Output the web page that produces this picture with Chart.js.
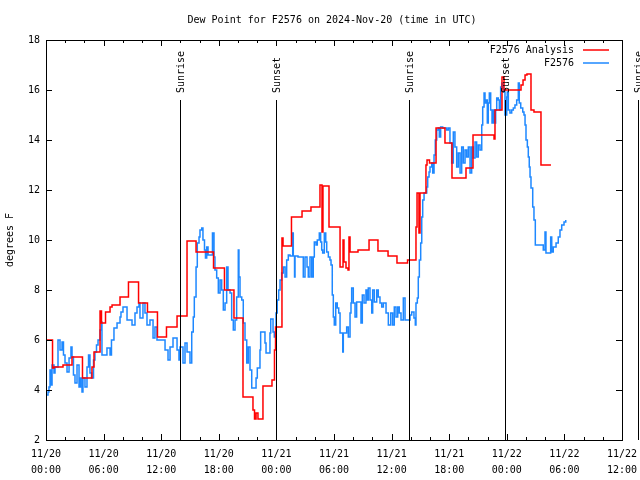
<!DOCTYPE html>
<html>
<head>
<meta charset="utf-8">
<script src="https://cdn.jsdelivr.net/npm/chart.js@4"></script>
<style>
  html, body { margin: 0; padding: 0; background: #fff; }
  #wrap { width: 640px; height: 480px; }
</style>
</head>
<body>
<div id="wrap"><canvas id="dew-chart" width="640" height="480"></canvas></div>
<script>
// hours since 2024-11-20 00:00 UTC
const analysisHours = [0.00, 0.68, 0.83, 1.77, 2.71, 3.80, 4.79, 5.00, 5.63, 5.78, 6.20, 6.67, 6.88, 7.71, 8.59,
  9.64, 10.57, 11.61, 12.55, 13.65, 14.69, 15.63, 17.45, 18.59, 19.58, 20.52, 21.56, 21.72, 21.88, 22.08, 22.60,
  23.54, 23.80, 23.91, 24.58, 24.69, 25.57, 26.67, 27.60, 28.54, 28.75, 28.85, 29.48, 30.63, 30.94, 31.04, 31.25,
  31.46, 31.56, 31.67, 32.50, 33.65, 34.58, 35.63, 36.56, 37.66, 38.54, 38.65, 38.85, 38.96, 39.58, 39.69, 39.95,
  40.63, 41.56, 42.29, 43.75, 44.48, 46.67, 46.77, 47.50, 47.71, 49.48, 49.69, 49.90, 50.10, 50.52, 50.83, 51.56, 52.60];
const analysisValues = [6.00, 4.88, 4.92, 5.00, 5.32, 4.48, 4.92, 5.52, 7.16, 6.68, 7.12, 7.32, 7.40, 7.72, 8.32,
  7.48, 7.12, 6.12, 6.52, 6.96, 9.96, 9.52, 8.88, 8.00, 6.88, 3.72, 3.20, 2.84, 3.08, 2.84, 4.16,
  4.40, 5.60, 6.52, 10.08, 9.76, 10.92, 11.16, 11.32, 12.20, 10.32, 12.16, 10.52, 8.92, 10.00, 9.12, 8.88,
  8.80, 10.12, 9.52, 9.60, 10.00, 9.56, 9.36, 9.08, 9.20, 10.52, 11.88, 10.28, 11.88, 13.00, 13.20, 13.08,
  14.48, 13.88, 12.48, 12.88, 14.20, 14.04, 15.20, 16.52, 16.00, 16.20, 16.40, 16.60, 16.64, 15.20, 15.12, 13.00, 13.00];

const stationHours = [0.07, 0.21, 0.31, 0.42, 0.52, 0.63, 0.83, 0.94, 1.25, 1.46, 1.67, 1.82, 1.98, 2.19, 2.40,
  2.60, 2.71, 2.86, 3.02, 3.23, 3.44, 3.59, 3.75, 3.85, 4.06, 4.27, 4.43, 4.58, 4.74, 4.95, 5.10, 5.26, 5.42,
  5.63, 5.78, 5.83, 6.35, 6.67, 6.82, 7.08, 7.40, 7.71, 7.81, 8.02, 8.44, 8.96, 9.27, 9.48, 9.69, 9.79, 10.10,
  10.31, 10.52, 10.83, 11.15, 11.35, 11.56, 12.40, 12.71, 12.92, 13.23, 13.65, 13.85, 13.96, 14.27, 14.48, 14.69,
  15.00, 15.18, 15.34, 15.45, 15.63, 15.76, 15.94, 16.04, 16.22, 16.35, 16.51, 16.61, 16.74, 16.88, 17.34, 17.50,
  17.60, 17.78, 17.95, 18.13, 18.30, 18.47, 18.65, 18.82, 18.96, 19.17, 19.34, 19.51, 19.69, 19.86, 20.03, 20.10,
  20.21, 20.39, 20.55, 20.73, 20.91, 21.07, 21.25, 21.43, 21.88, 22.01, 22.29, 22.36, 22.81, 22.92, 23.33, 23.41,
  23.65, 23.78, 23.96, 24.09, 24.24, 24.38, 24.55, 24.72, 24.90, 25.07, 25.24, 25.42, 25.70, 25.76, 25.89, 25.94,
  26.25, 26.80, 26.98, 27.19, 27.32, 27.50, 27.68, 27.84, 27.95, 28.13, 28.26, 28.47, 28.61, 28.72, 28.82, 28.99,
  29.14, 29.24, 29.41, 29.58, 29.69, 29.82, 29.93, 30.03, 30.18, 30.34, 30.49, 30.63, 30.91, 30.97, 31.32, 31.49,
  31.67, 31.77, 31.84, 32.01, 32.19, 32.36, 32.81, 32.95, 33.13, 33.33, 33.47, 33.57, 33.75, 33.93, 34.03, 34.20,
  34.45, 34.61, 34.79, 34.97, 35.14, 35.42, 35.66, 35.91, 36.11, 36.28, 36.46, 36.64, 36.80, 36.98, 37.22, 37.40,
  37.92, 38.09, 38.33, 38.47, 38.54, 38.68, 38.78, 38.89, 39.03, 39.14, 39.24, 39.38, 39.66, 39.76, 39.90, 40.00,
  40.18, 40.28, 40.42, 40.55, 40.70, 40.86, 40.97, 41.11, 41.32, 41.74, 41.91, 42.08, 42.26, 42.43, 42.60, 42.78,
  42.95, 43.13, 43.30, 43.47, 43.65, 43.82, 43.99, 44.17, 44.34, 44.51, 44.69, 44.86, 45.03, 45.21, 45.39, 45.49,
  45.63, 45.73, 45.83, 45.97, 46.07, 46.18, 46.32, 46.46, 46.59, 46.70, 46.84, 46.95, 47.11, 47.22, 47.36, 47.47,
  47.64, 47.81, 47.99, 48.05, 48.16, 48.33, 48.51, 48.68, 48.85, 49.03, 49.20, 49.30, 49.45, 49.66, 49.79, 49.90,
  50.00, 50.14, 50.24, 50.34, 50.42, 50.52, 50.70, 50.83, 50.97, 51.80, 51.98, 52.08, 52.57, 52.68, 52.84, 53.13,
  53.36, 53.54, 53.72, 53.96, 54.14];
const stationValues = [3.80, 3.92, 4.12, 4.80, 4.20, 5.00, 4.68, 4.92, 6.00, 5.60, 5.92, 5.40, 5.08, 4.72, 5.28,
  5.72, 5.32, 4.60, 4.28, 5.00, 4.12, 4.48, 3.92, 4.48, 4.12, 4.92, 5.40, 4.68, 4.48, 5.20, 5.52, 5.80, 6.00,
  6.40, 6.72, 5.40, 5.68, 5.40, 6.00, 6.48, 6.68, 6.92, 7.12, 7.32, 6.80, 6.60, 7.08, 7.32, 7.48, 6.88, 7.48,
  7.08, 6.60, 6.80, 6.08, 6.52, 6.00, 5.60, 5.20, 5.72, 6.08, 5.60, 5.20, 5.72, 5.08, 5.88, 5.52,
  5.08, 6.32, 6.92, 7.72, 8.92, 9.88, 10.12, 10.40, 10.48, 10.00, 9.60, 9.28, 9.72, 9.40, 10.28, 9.32,
  8.80, 8.48, 7.88, 8.40, 8.00, 7.20, 7.48, 8.92, 8.00, 7.88, 6.80, 6.40, 6.80, 7.72, 9.60, 8.52,
  7.72, 7.60, 6.68, 6.00, 5.08, 5.72, 4.80, 4.08, 4.48, 4.88, 5.60, 6.32, 5.88, 5.48, 6.28, 6.84,
  6.32, 6.12, 7.08, 7.60, 8.00, 8.40, 8.68, 8.92, 8.52, 9.20, 9.40, 9.36, 10.28, 9.36, 8.52, 9.36,
  9.32, 8.52, 9.32, 8.92, 8.52, 9.32, 8.52, 9.32, 9.92, 9.80, 10.00, 10.28, 9.92, 9.60, 9.48, 10.28,
  9.92, 9.52, 9.32, 9.20, 9.00, 7.80, 6.92, 6.60, 7.48, 7.28, 7.08, 6.28, 5.52, 6.28, 6.52, 6.12,
  7.08, 7.48, 8.08, 7.48, 6.92, 7.52, 6.68, 7.80, 7.48, 8.00, 7.60, 8.08, 7.60, 7.08, 8.00, 7.52,
  8.00, 7.72, 7.48, 7.32, 7.48, 7.08, 6.60, 7.08, 6.60, 7.32, 6.92, 7.32, 7.08, 6.80, 7.68, 6.80,
  7.00, 7.12, 6.88, 6.60, 7.48, 7.68, 8.52, 9.20, 9.88, 10.92, 11.60, 11.88, 12.12, 12.52, 12.72, 12.92,
  13.08, 12.68, 13.40, 14.00, 14.40, 14.48, 14.12, 14.52, 14.48, 14.40, 14.48, 13.88, 13.08, 14.32, 13.72, 12.92,
  13.48, 12.68, 13.72, 13.08, 13.60, 13.32, 13.72, 12.68, 13.72, 13.28, 13.92, 13.32, 13.80, 13.60, 14.60, 15.32,
  15.88, 15.48, 15.60, 14.68, 15.48, 15.88, 15.20, 14.68, 15.20, 14.68, 15.20, 15.68, 15.60, 15.20, 16.12, 16.28,
  15.92, 15.00, 15.72, 15.92, 15.20, 15.08, 15.20, 15.28, 15.40, 15.60, 16.28, 15.48, 15.28, 15.12, 15.00, 14.60,
  14.00, 13.72, 13.32, 12.92, 12.52, 12.08, 11.32, 10.80, 9.80, 9.60, 10.32, 9.48, 10.12, 9.52, 9.72, 9.88,
  10.12, 10.40, 10.60, 10.72, 10.80];

const sunHours = [13.96, 23.96, 37.81, 47.81, 61.67];
const sunLabels = ['Sunrise', 'Sunset', 'Sunrise', 'Sunset', 'Sunrise'];

const xTickDates = ['11/20', '11/20', '11/20', '11/20', '11/21', '11/21', '11/21', '11/21', '11/22', '11/22', '11/22'];
const xTickTimes = ['00:00', '06:00', '12:00', '18:00', '00:00', '06:00', '12:00', '18:00', '00:00', '06:00', '12:00'];

const mono = "'DejaVu Sans Mono', 'Liberation Mono', monospace";
const redColor = '#ff0000';
const blueColor = '#1e88ff';

const toPoints = (xs, ys) => xs.map((h, i) => ({ x: h, y: ys[i] }));

// frame, inward ticks, sun lines, title, legend, y title
const decorations = {
  id: 'decorations',
  afterDraw(chart) {
    const ctx = chart.ctx;
    const a = chart.chartArea;
    const xs = chart.scales.x;
    const ys = chart.scales.y;
    ctx.save();
    ctx.strokeStyle = '#000';
    ctx.lineWidth = 1;
    ctx.strokeRect(Math.round(a.left) + 0.5, Math.round(a.top) + 0.5,
      Math.round(a.right - a.left), Math.round(a.bottom - a.top));

    ctx.beginPath();
    for (let h = 0; h <= 60; h += 2) {
      const px = Math.round(xs.getPixelForValue(h)) + 0.5;
      const len = h % 6 === 0 ? 6 : 3;
      ctx.moveTo(px, a.bottom); ctx.lineTo(px, a.bottom - len);
      ctx.moveTo(px, a.top); ctx.lineTo(px, a.top + len);
    }
    for (let v = 2; v <= 18; v += 2) {
      const py = Math.round(ys.getPixelForValue(v)) + 0.5;
      ctx.moveTo(a.left, py); ctx.lineTo(a.left + 6, py);
      ctx.moveTo(a.right, py); ctx.lineTo(a.right - 6, py);
    }
    ctx.stroke();

    // sunrise / sunset markers
    ctx.font = '10px ' + mono;
    ctx.fillStyle = '#000';
    sunHours.forEach((h, i) => {
      const px = Math.round(xs.getPixelForValue(h)) + 0.5;
      ctx.beginPath();
      ctx.moveTo(px, 100);
      ctx.lineTo(px, a.bottom);
      ctx.stroke();
      ctx.save();
      ctx.translate(px + 1, 93);
      ctx.rotate(-Math.PI / 2);
      ctx.textAlign = 'left';
      ctx.textBaseline = 'middle';
      ctx.fillText(sunLabels[i], 0, 0);
      ctx.restore();
    });

    // title
    ctx.textAlign = 'center';
    ctx.textBaseline = 'middle';
    ctx.fillText('Dew Point for F2576 on 2024-Nov-20 (time in UTC)', 332, 20);

    // y axis title
    ctx.save();
    ctx.translate(10, 240);
    ctx.rotate(-Math.PI / 2);
    ctx.fillText('degrees F', 0, 0);
    ctx.restore();

    // legend
    ctx.textAlign = 'right';
    ctx.fillText('F2576 Analysis', 574, 50);
    ctx.fillText('F2576', 574, 63);
    ctx.lineWidth = 1.5;
    ctx.strokeStyle = redColor;
    ctx.beginPath(); ctx.moveTo(583, 50); ctx.lineTo(609, 50); ctx.stroke();
    ctx.strokeStyle = blueColor;
    ctx.beginPath(); ctx.moveTo(583, 63); ctx.lineTo(609, 63); ctx.stroke();
    ctx.restore();
  }
};

const ctx = document.getElementById('dew-chart').getContext('2d');
const chart = new Chart(ctx, {
  type: 'line',
  data: {
    datasets: [
      {
        label: 'F2576 Analysis',
        data: toPoints(analysisHours, analysisValues),
        borderColor: redColor,
        backgroundColor: redColor,
        borderWidth: 1.5,
        pointRadius: 0,
        stepped: true,
        fill: false
      },
      {
        label: 'F2576',
        data: toPoints(stationHours, stationValues),
        borderColor: blueColor,
        backgroundColor: blueColor,
        borderWidth: 1.5,
        pointRadius: 0,
        stepped: true,
        fill: false
      }
    ]
  },
  options: {
    responsive: false,
    animation: false,
    events: [],
    layout: { padding: { top: 40, right: 18, left: 0, bottom: 0 } },
    plugins: {
      legend: { display: false },
      title: { display: false },
      tooltip: { enabled: false }
    },
    scales: {
      x: {
        type: 'linear',
        min: 0,
        max: 60,
        afterFit: s => { s.height = 40; s.paddingRight = 0; s.paddingLeft = 0; },
        afterBuildTicks: s => { s.ticks = xTickDates.map((d, i) => ({ value: i * 6 })); },
        grid: { display: false, drawTicks: false },
        border: { display: false },
        ticks: {
          autoSkip: false,
          maxRotation: 0,
          padding: 6,
          color: '#000',
          font: { family: mono, size: 10, lineHeight: 1.6 },
          callback: (v) => [xTickDates[v / 6], xTickTimes[v / 6]]
        }
      },
      y: {
        min: 2,
        max: 18,
        afterFit: s => { s.width = 46; s.paddingTop = 0; s.paddingBottom = 0; },
        grid: { display: false, drawTicks: false },
        border: { display: false },
        ticks: {
          stepSize: 2,
          padding: 6,
          color: '#000',
          font: { family: mono, size: 10 }
        }
      }
    }
  },
  plugins: [decorations]
});
</script>
</body>
</html>
